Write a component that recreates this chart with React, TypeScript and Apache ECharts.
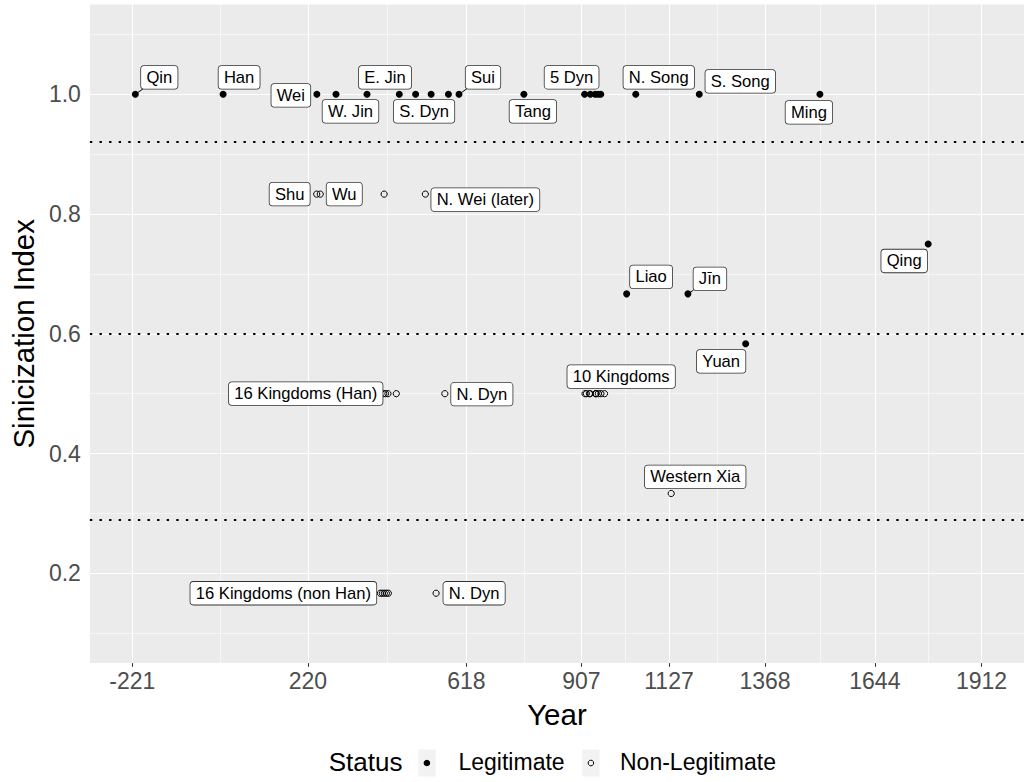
import React, { useEffect, useRef } from "react";
import * as echarts from "echarts";

// ---------- data ----------
const xBreaks = [-221, 220, 618, 907, 1127, 1368, 1644, 1912];
const yBreaks = [0.2, 0.4, 0.6, 0.8, 1.0];
const yMinorBreaks = [0.1, 0.3, 0.5, 0.7, 0.9, 1.1];
const cutLines = [0.9175, 0.604, 0.2905];

const legitIds = [
  "Qin", "Han", "Wei", "W. Jin", "E. Jin", "Liu Song", "Qi", "Liang", "Chen", "Sui", "Tang",
  "Later Liang", "Later Tang", "Later Jin", "Later Han", "Later Zhou", "Liao", "N. Song",
  "Jīn", "S. Song", "Yuan", "Ming", "Qing",
];
const legitYears = [
  -213.5, 7, 242.5, 290.5, 368.5, 449.5, 490.5, 529.5, 573, 599.5, 762.5,
  915, 929.5, 941.5, 949, 955.5, 1020.5, 1043.5, 1174.5, 1203, 1319.5, 1506, 1778,
];
const legitIndex = [
  1, 1, 1, 1, 1, 1, 1, 1, 1, 1, 1,
  1, 1, 1, 1, 1, 0.6667, 1, 0.6667, 1, 0.5833, 1, 0.75,
];

const nonLegitIds = [
  "Shu", "Wu", "NW mid", "N. Wei (later)",
  "SKH1", "SKH2", "SKH3", "SKH4", "NDH",
  "TK1", "TK2", "TK3", "TK4", "TK5", "TK6", "TK7", "TK8", "TK9", "TK10",
  "Western Xia",
  "SKN1", "SKN2", "SKN3", "SKN4", "SKN5", "NDN",
];
const nonLegitYears = [
  242, 251, 411.5, 515,
  410.5, 415, 421, 442, 564,
  916, 919.5, 927, 929, 942.5, 943.5, 944, 949.5, 956, 965,
  1132.5,
  402, 407, 412, 417, 422, 542,
];
const nonLegitIndex = [
  0.8333, 0.8333, 0.8333, 0.8333,
  0.5, 0.5, 0.5, 0.5, 0.5,
  0.5, 0.5, 0.5, 0.5, 0.5, 0.5, 0.5, 0.5, 0.5, 0.5,
  0.3333,
  0.1667, 0.1667, 0.1667, 0.1667, 0.1667, 0.1667,
];

const labelIds = [
  "Qin", "Han", "Wei", "W. Jin", "E. Jin", "Qi", "Sui", "Tang", "Later Liang", "N. Song",
  "S. Song", "Ming", "Qing", "Liao", "Jīn", "Yuan", "Shu", "Wu", "N. Wei (later)", "SKH1",
  "NDH", "TK7", "Western Xia", "SKN1", "NDN",
];
const labelTexts = [
  "Qin", "Han", "Wei", "W. Jin", "E. Jin", "S. Dyn", "Sui", "Tang", "5 Dyn", "N. Song",
  "S. Song", "Ming", "Qing", "Liao", "Jīn", "Yuan", "Shu", "Wu", "N. Wei (later)", "16 Kingdoms (Han)",
  "N. Dyn", "10 Kingdoms", "Western Xia", "16 Kingdoms (non Han)", "N. Dyn",
];

// ---------- label placement (pixel nudges, segment flag) ----------
const labelNudge: [number, number, number][] = [
  [24, -17, 1], [16, -17, 0], [-26, 1, 0], [14.5, 17, 0], [18, -17, 0],
  [8.5, 17, 0], [24, -17, 1], [9, 17, 0], [-13, -17, 0], [23, -17, 0],
  [41, -13, 0], [-11, 18, 0], [-24, 17, 0], [24.5, -17, 0], [22, -15, 1],
  [-24.5, 17.5, 0], [-27, 0, 0], [24, 0, 0], [60, 5.5, 0], [-78, 0, 0],
  [37, 0.5, 0], [25, -17, 0], [24, -16.6, 0], [-97, 0, 0], [38, 0, 0],
];

// ---------- styles ----------
const FONT = '"Liberation Sans", Arial, Helvetica, sans-serif';
const LABEL_FS = 16.6;
const PAD_X = 5.3;
const PAD_Y = 5;
const LINE_H = 12.7;
const X_MIN = -327.65;
const X_MAX = 2018.65;
const Y_MIN = 0.05;
const Y_MAX = 1.15;
const TITLE_FS = 29.5;

let measureCtx: CanvasRenderingContext2D | null = null;
function textWidth(t: string): number {
  if (!measureCtx) measureCtx = document.createElement("canvas").getContext("2d");
  if (!measureCtx) return t.length * LABEL_FS * 0.55;
  measureCtx.font = `${LABEL_FS}px ${FONT}`;
  return measureCtx.measureText(t).width;
}

function buildOption(): any {
  const xMinor: number[] = [];
  for (let i = 0; i < xBreaks.length - 1; i++) xMinor.push((xBreaks[i] + xBreaks[i + 1]) / 2);

  const legitData = legitYears.map((y, i) => [y, legitIndex[i]]);
  const nonLegitData = nonLegitYears.map((y, i) => [y, nonLegitIndex[i]]);

  const labelData = labelIds.map((id, i) => {
    let k = legitIds.indexOf(id);
    if (k >= 0) return [legitYears[k], legitIndex[k], i];
    k = nonLegitIds.indexOf(id);
    return [nonLegitYears[k], nonLegitIndex[k], i];
  });

  const white = (w: number) => ({ color: "#FFFFFF", width: w, type: "solid" });
  const gridLines = [
    ...xMinor.map((v) => ({ xAxis: v, lineStyle: white(0.55) })),
    ...yMinorBreaks.map((v) => ({ yAxis: v, lineStyle: white(0.55) })),
    ...xBreaks.map((v) => ({ xAxis: v, lineStyle: white(1.1) })),
    ...yBreaks.map((v) => ({ yAxis: v, lineStyle: white(1.1) })),
  ];

  const tickLabelStyle = { fontSize: 23, color: "#4D4D4D", fontFamily: FONT };

  return {
    animation: false,
    backgroundColor: "#FFFFFF",
    grid: {
      left: 86.3,
      top: 4.5,
      width: 938.7,
      height: 658.6,
      show: true,
      backgroundColor: "#EBEBEB",
      borderWidth: 0,
    },
    xAxis: {
      type: "value",
      min: X_MIN,
      max: X_MAX,
      name: "Year",
      nameLocation: "middle",
      nameGap: 36.3,
      nameTextStyle: { fontSize: TITLE_FS, color: "#000000", fontFamily: FONT },
      axisLine: { show: false },
      splitLine: { show: false },
      axisTick: {
        show: true,
        length: 3.7,
        customValues: xBreaks,
        lineStyle: { color: "#333333", width: 1.07 },
      },
      axisLabel: {
        ...tickLabelStyle,
        margin: 6.2,
        customValues: xBreaks,
        formatter: (v: number) => String(v),
      },
    },
    yAxis: {
      type: "value",
      min: Y_MIN,
      max: Y_MAX,
      name: "Sinicization Index",
      nameLocation: "middle",
      nameGap: 47,
      nameRotate: 90,
      nameTextStyle: { fontSize: TITLE_FS, color: "#000000", fontFamily: FONT },
      axisLine: { show: false },
      splitLine: { show: false },
      axisTick: {
        show: true,
        length: 3.7,
        customValues: yBreaks,
        lineStyle: { color: "#333333", width: 1.07 },
      },
      axisLabel: {
        ...tickLabelStyle,
        margin: 9,
        customValues: yBreaks,
        formatter: (v: number) => v.toFixed(1),
      },
    },
    series: [
      {
        type: "scatter",
        name: "grid",
        data: [],
        z: 1,
        silent: true,
        markLine: {
          z: 1,
          silent: true,
          symbol: ["none", "none"],
          label: { show: false },
          emphasis: { disabled: true },
          data: gridLines,
        },
      },
      {
        type: "scatter",
        name: "cuts",
        data: [],
        z: 2,
        silent: true,
        markLine: {
          z: 2,
          silent: true,
          symbol: ["none", "none"],
          label: { show: false },
          emphasis: { disabled: true },
          lineStyle: { color: "#000000", width: 2.2, type: [2.4, 7.2], cap: "butt" },
          data: cutLines.map((v) => ({ yAxis: v })),
        },
      },
      {
        type: "scatter",
        name: "Legitimate",
        data: legitData,
        z: 3,
        symbol: "circle",
        symbolSize: 7,
        itemStyle: { color: "#000000", opacity: 1 },
      },
      {
        type: "scatter",
        name: "Non-Legitimate",
        data: nonLegitData,
        z: 3,
        symbol: "circle",
        symbolSize: 6.2,
        itemStyle: { color: "rgba(0,0,0,0)", borderColor: "#000000", borderWidth: 1, opacity: 1 },
      },
      {
        type: "custom",
        name: "labels",
        data: labelData,
        z: 5,
        silent: true,
        clip: false,
        encode: { x: 0, y: 1 },
        renderItem: (_params: any, api: any) => {
          const i = api.value(2) as number;
          const p = api.coord([api.value(0), api.value(1)]);
          const [dx, dy, seg] = labelNudge[i];
          const text = labelTexts[i];
          const cx = p[0] + dx;
          const cy = p[1] + dy;
          const children: any[] = [];
          if (seg) {
            const hw = textWidth(text) / 2 + PAD_X;
            const hh = (LINE_H + 2 * PAD_Y) / 2;
            const adx = Math.abs(dx);
            const ady = Math.abs(dy);
            const tx = adx > hw ? (adx - hw) / adx : 0;
            const ty = ady > hh ? (ady - hh) / ady : 0;
            const t = Math.max(tx, ty);
            children.push({
              type: "line",
              shape: { x1: p[0], y1: p[1], x2: p[0] + dx * t, y2: p[1] + dy * t },
              style: { stroke: "#000000", lineWidth: 1 },
            });
          }
          children.push({
            type: "text",
            x: cx,
            y: cy,
            style: {
              text,
              fontSize: LABEL_FS,
              fontFamily: FONT,
              fill: "#000000",
              align: "center",
              verticalAlign: "middle",
              lineHeight: LINE_H,
              backgroundColor: "#FFFFFF",
              borderColor: "#333333",
              borderWidth: 0.8,
              borderRadius: 3,
              padding: [PAD_Y, PAD_X],
            },
          });
          return { type: "group", children };
        },
      },
    ],
    graphic: [
      {
        type: "text",
        x: 328.7,
        y: 762,
        style: { text: "Status", fontSize: 26, fontFamily: FONT, fill: "#000000", align: "left", verticalAlign: "middle" },
      },
      { type: "rect", shape: { x: 418.3, y: 749.5, width: 17.3, height: 27 }, style: { fill: "#F2F2F2" } },
      { type: "circle", shape: { cx: 426.9, cy: 763, r: 3.3 }, style: { fill: "#000000" } },
      {
        type: "text",
        x: 458.5,
        y: 762,
        style: { text: "Legitimate", fontSize: 23, fontFamily: FONT, fill: "#000000", align: "left", verticalAlign: "middle" },
      },
      { type: "rect", shape: { x: 582.3, y: 749.5, width: 17.3, height: 27 }, style: { fill: "#F2F2F2" } },
      { type: "circle", shape: { cx: 590.9, cy: 763, r: 2.8 }, style: { fill: "none", stroke: "#000000", lineWidth: 1 } },
      {
        type: "text",
        x: 620,
        y: 762,
        style: { text: "Non-Legitimate", fontSize: 23, fontFamily: FONT, fill: "#000000", align: "left", verticalAlign: "middle" },
      },
    ],
  };
}

export default function App() {
  const ref = useRef<HTMLDivElement>(null);
  useEffect(() => {
    if (!ref.current) return;
    const chart = echarts.init(ref.current, null, { renderer: "svg" });
    chart.setOption(buildOption());
    return () => chart.dispose();
  }, []);
  return (
    <div
      ref={ref}
      style={{ position: "fixed", left: 0, top: 0, width: 1024, height: 782, background: "#FFFFFF" }}
    />
  );
}
